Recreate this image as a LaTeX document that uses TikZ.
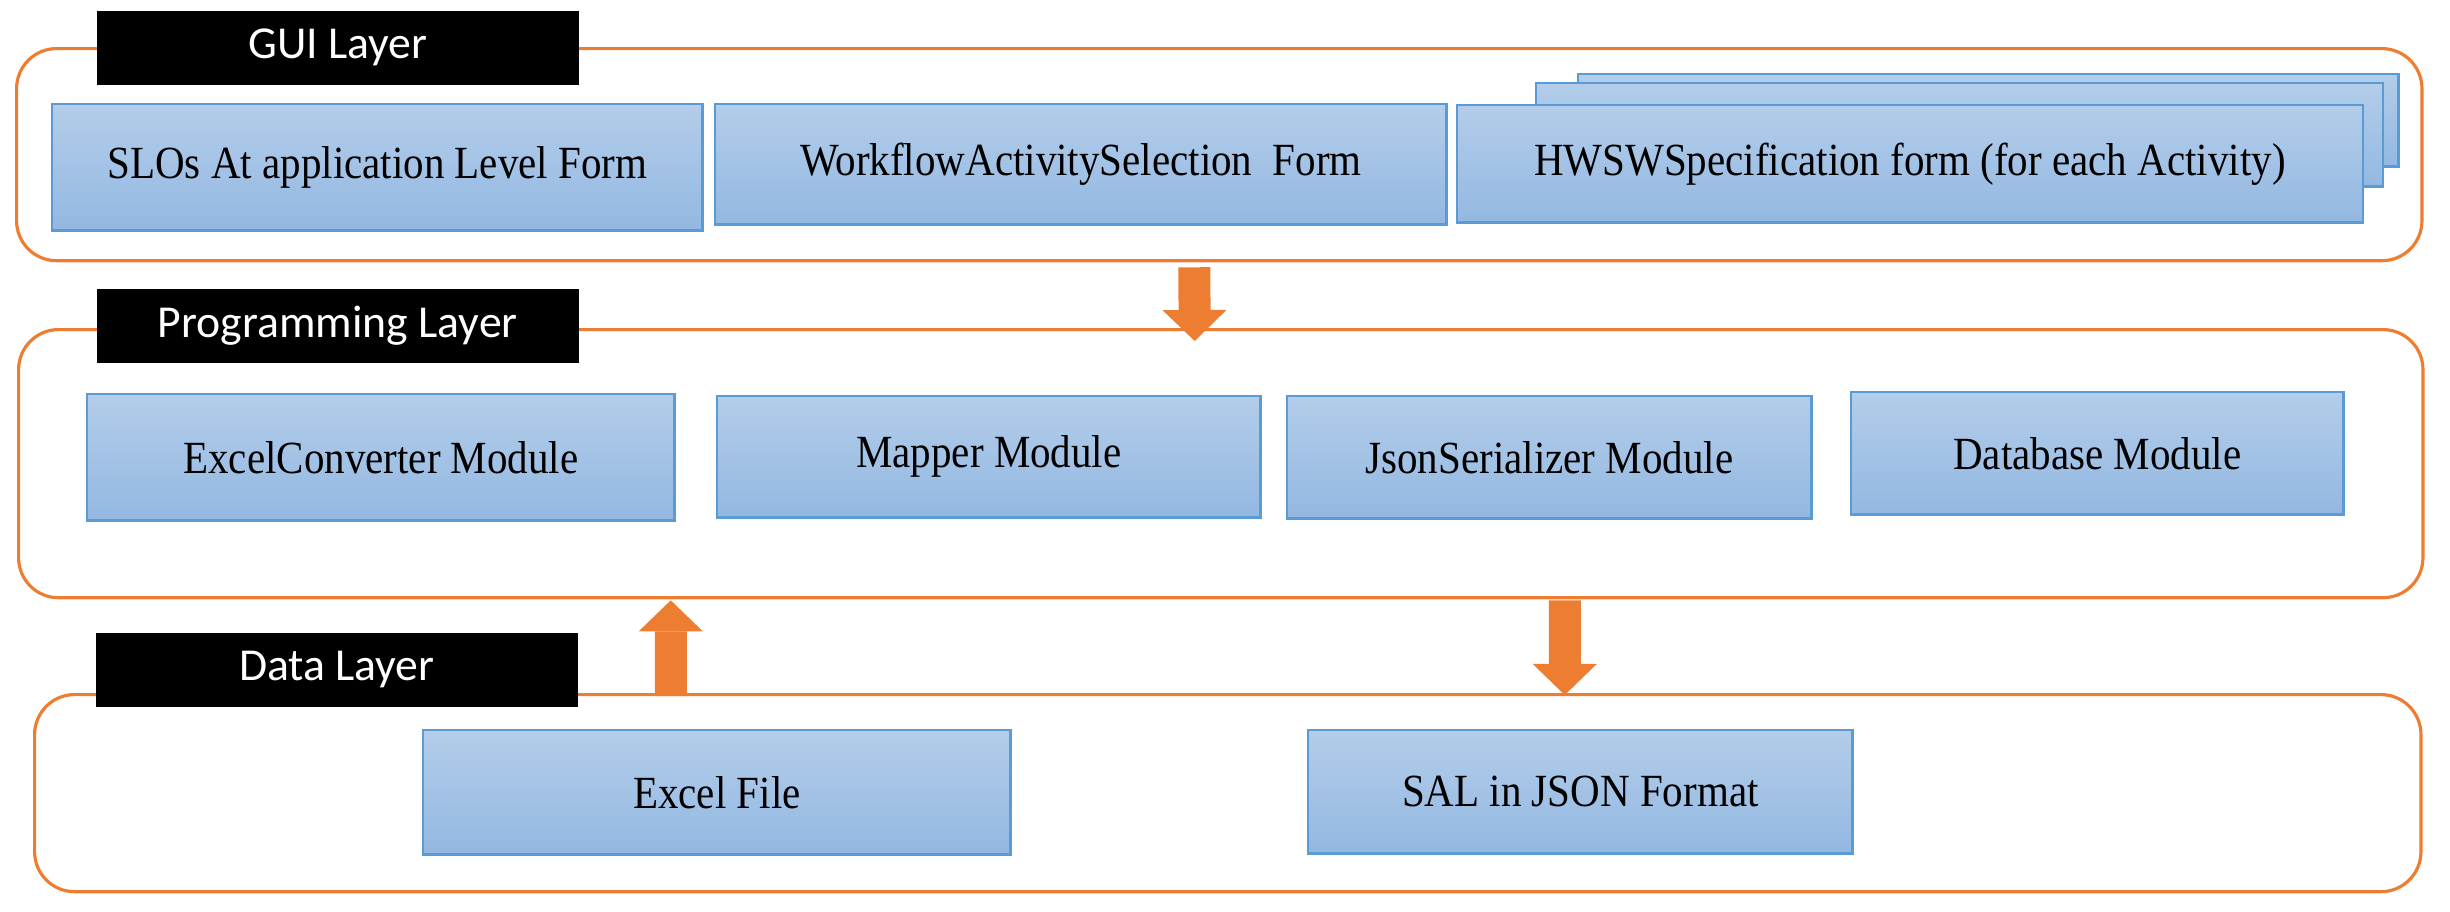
\documentclass[tikz,border=0pt]{standalone}
\usepackage{fontspec}
\setmainfont[FakeStretch=0.89]{Liberation Serif}
\newfontfamily\tagfont{Carlito}
\usetikzlibrary{arrows.meta}

\definecolor{layerorange}{HTML}{ED7D31}
\definecolor{moduleblue}{HTML}{5B9BD5}
\definecolor{moduletop}{HTML}{B3CDEA}
\definecolor{modulebottom}{HTML}{93B8E1}

\begin{document}
\begin{tikzpicture}[
    x=0.01cm, y=-0.01cm,
    layer/.style={draw=layerorange, line width=0.9pt, rounded corners=0.4cm,
      anchor=north west, inner sep=0pt},
    tag/.style={fill=black, text=white, anchor=north west, inner sep=0pt,
      minimum width=4.82cm, minimum height=0.74cm,
      font=\tagfont\fontsize{13}{15}\selectfont},
    module/.style={draw=moduleblue, line width=0.7pt,
      top color=moduletop, bottom color=modulebottom,
      anchor=north west, inner sep=0pt,
      font=\fontsize{13.1}{15}\selectfont},
    bigarrow/.style={draw=layerorange, line width=0.32cm,
      -{Triangle[length=0.31cm, width=0.64cm, line width=0pt]}}
  ]
  \useasboundingbox (0,0) rectangle (2450,912);

  % layers
  \node[layer, minimum width=24.04cm, minimum height=2.12cm] (gui) at (15,47) {};
  \node[layer, minimum width=24.03cm, minimum height=2.68cm] (prog) at (17,328) {};
  \node[layer, minimum width=23.85cm, minimum height=1.97cm] (data) at (33,693) {};

  \node[tag] (guitag) at (96,10) {GUI Layer};
  \node[tag] (progtag) at (96,288) {Programming Layer};
  \node[tag] (datatag) at (95,632) {Data Layer};

  % GUI layer
  \node[module, minimum width=6.5cm, minimum height=1.26cm] (slo) at (51,103)
    {SLOs At application Level Form};
  \node[module, minimum width=7.31cm, minimum height=1.2cm] (workflow) at (714,103)
    {WorkflowActivitySelection\ \ Form};
  \node[module, minimum width=8.2cm, minimum height=0.92cm] (hwswback) at (1577,73) {};
  \node[module, minimum width=8.46cm, minimum height=1.03cm] (hwswmid) at (1535,82) {};
  \node[module, minimum width=9.05cm, minimum height=1.17cm] (hwsw) at (1456,104)
    {HWSWSpecification form (for each Activity)};

  % programming layer
  \node[module, minimum width=5.87cm, minimum height=1.26cm] (excelconv) at (86,393)
    {ExcelConverter Module};
  \node[module, minimum width=5.43cm, minimum height=1.21cm] (mapper) at (716,395)
    {Mapper Module};
  \node[module, minimum width=5.24cm, minimum height=1.22cm] (jsonser) at (1286,395)
    {JsonSerializer Module};
  \node[module, minimum width=4.92cm, minimum height=1.22cm] (database) at (1850,391)
    {Database Module};

  % data layer
  \node[module, minimum width=5.87cm, minimum height=1.24cm] (excelfile) at (422,729)
    {Excel File};
  \node[module, minimum width=5.44cm, minimum height=1.23cm] (saljson) at (1307,729)
    {SAL in JSON Format};

  \draw[bigarrow] ([shift={(-25,5)}]gui.south) -- ([shift={(-26,13)}]prog.north);
  \draw[bigarrow] ([shift={(-557,3)}]data.north) -- ([shift={(-550,1)}]prog.south);
  \draw[bigarrow] ([shift={(344,1)}]prog.south) -- ([shift={(337,2)}]data.north);
\end{tikzpicture}
\end{document}
